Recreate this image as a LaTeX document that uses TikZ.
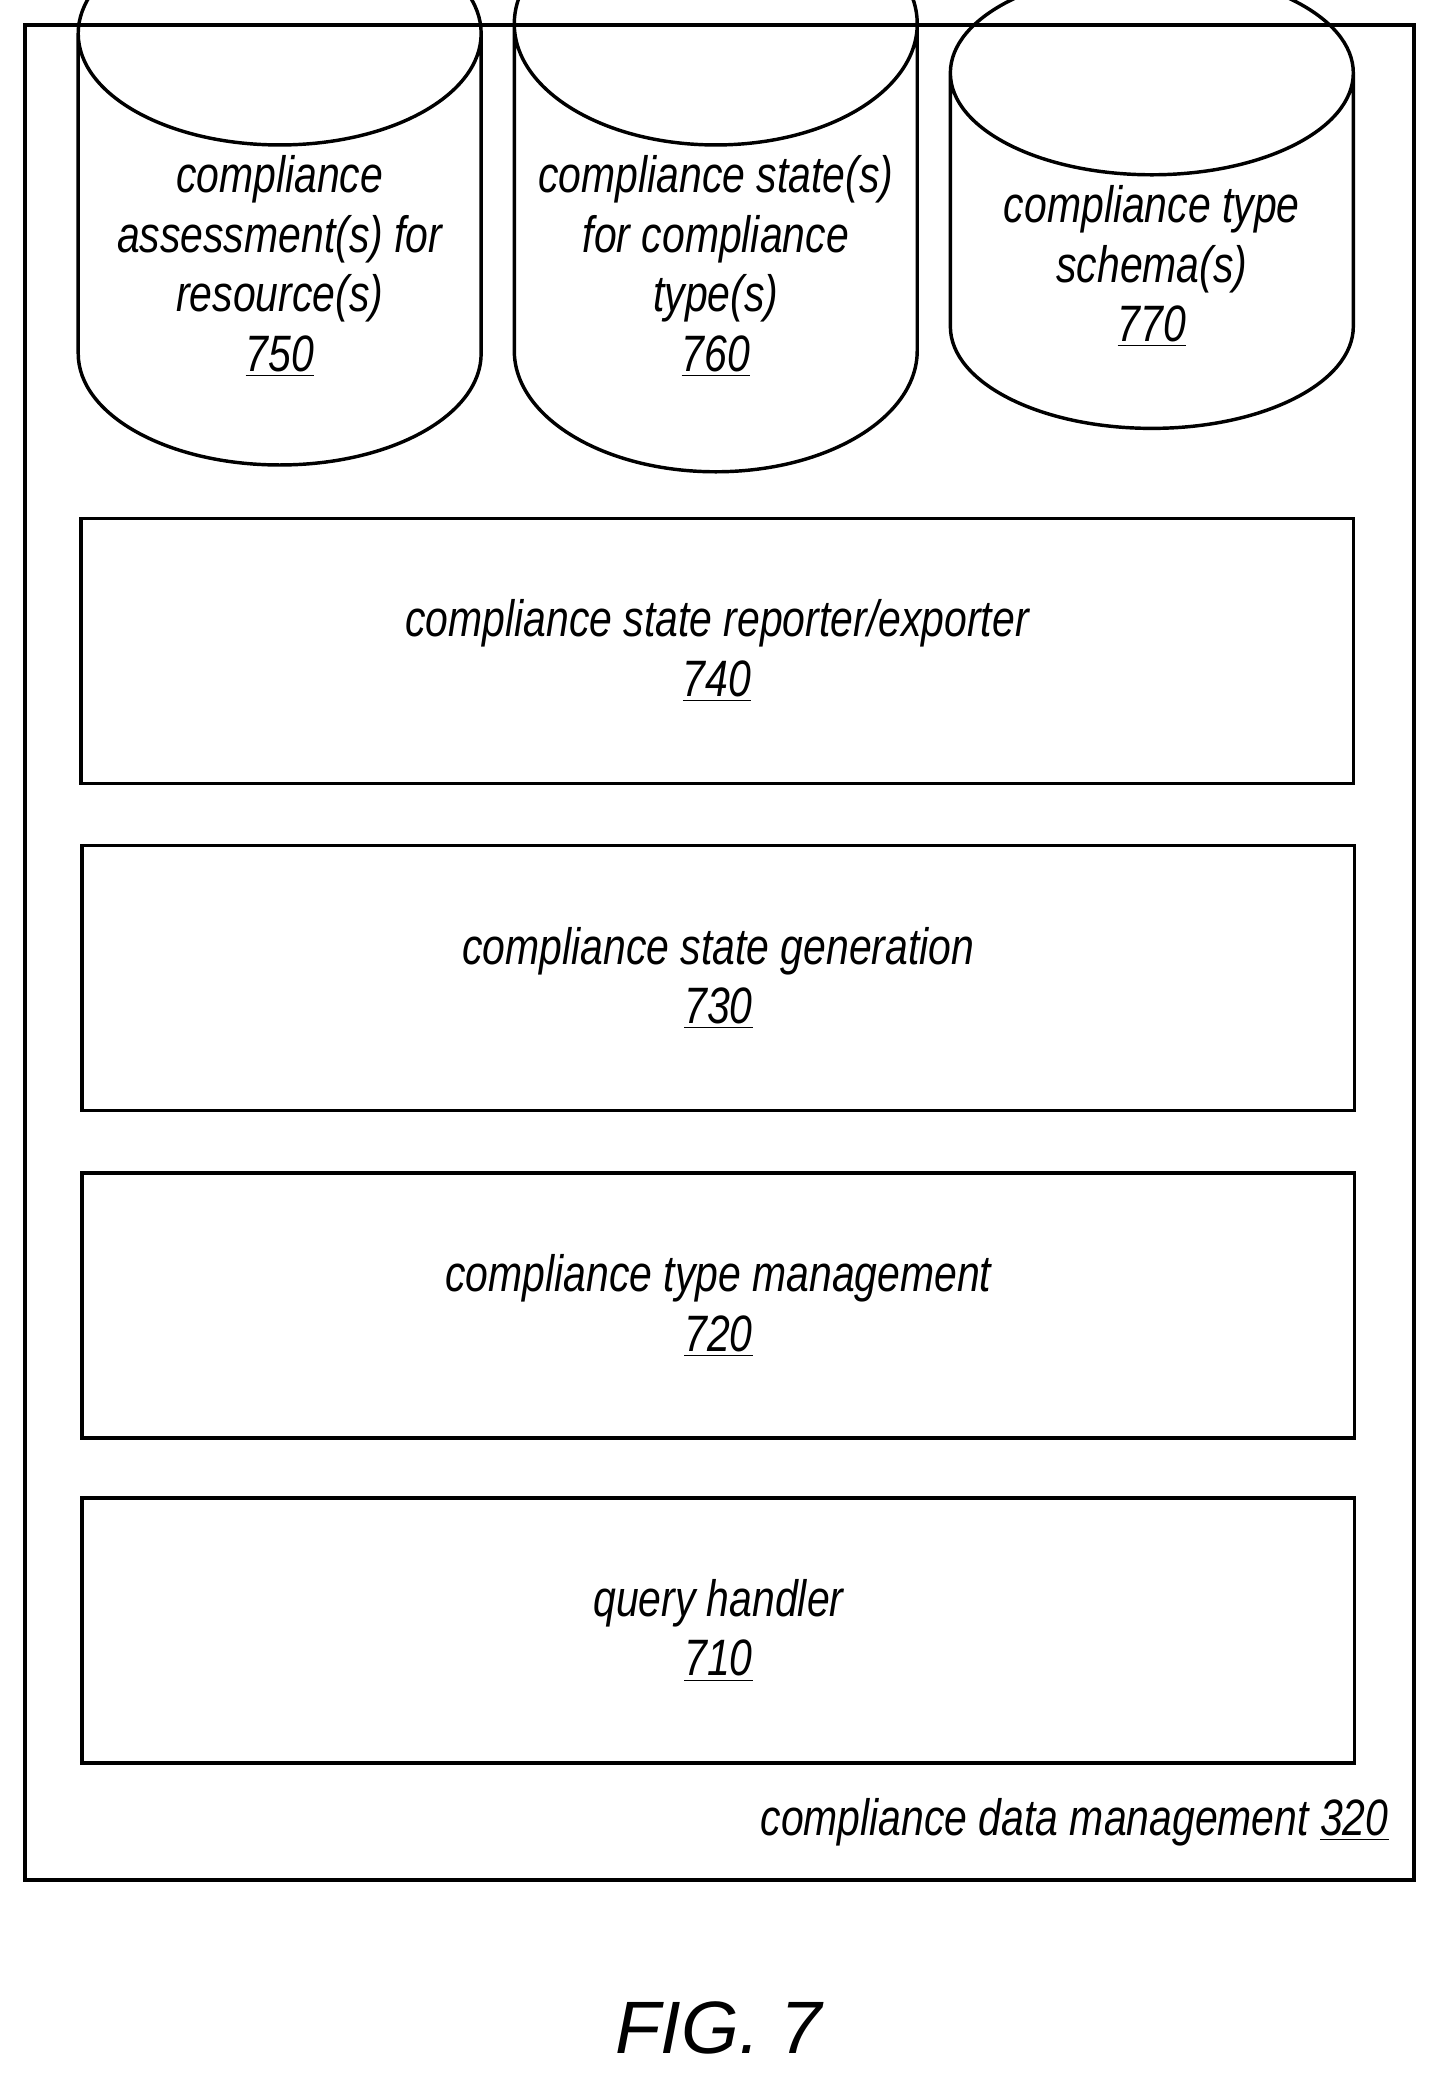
\documentclass[tikz,border=0pt]{standalone}
\usepackage{fontspec}
\setmainfont{Liberation Sans}
\newfontfamily\labelfont[FakeStretch=0.8]{Liberation Sans}
\usetikzlibrary{shapes.geometric, positioning}
\tikzset{
  unit/.style={draw, line width=1.3pt, minimum width=480pt, minimum height=100pt, align=center, font=\labelfont\itshape\fontsize{19.3}{22.5}\selectfont},
  store/.style={draw, line width=1.3pt, cylinder, shape border rotate=90, aspect=0.65, minimum width=152pt, minimum height=149pt, align=center, font=\labelfont\itshape\fontsize{19.3}{22.5}\selectfont},
}

\begin{document}
\begin{tikzpicture}[x=0.5pt, y=-0.5pt]
\useasboundingbox (0,0) rectangle (1084,1570);
% Frame
\node (frame) [draw, line width=1.5pt, minimum width=524pt, minimum height=700pt, anchor=north west] at (17,17) {};
\node (framelabel) [anchor=south east, inner sep=2pt, font=\labelfont\itshape\fontsize{19.3}{22.5}\selectfont] at (1052,1397) {compliance data management \underline{320}};

% Stores
\node (s750) [store] at (211,201) {compliance\\assessment(s) for\\resource(s)\\\underline{750}};
\node (s760) [store] at (540,201) {compliance state(s)\\for compliance\\type(s)\\\underline{760}};
\node (s770) [store] at (869,201) {compliance type\\schema(s)\\\underline{770}};

% Units
\node (u740) [unit] at (541,491) {compliance state reporter/exporter\\\underline{740}};
\node (u730) [unit] at (542,738) {compliance state generation\\\underline{730}};
\node (u720) [unit] at (542,985) {compliance type management\\\underline{720}};
\node (u710) [unit] at (542,1230) {query handler\\\underline{710}};

\node (fig) [font=\fontsize{28}{32}\selectfont\itshape] at (542,1530) {FIG. 7};
\end{tikzpicture}
\end{document}
